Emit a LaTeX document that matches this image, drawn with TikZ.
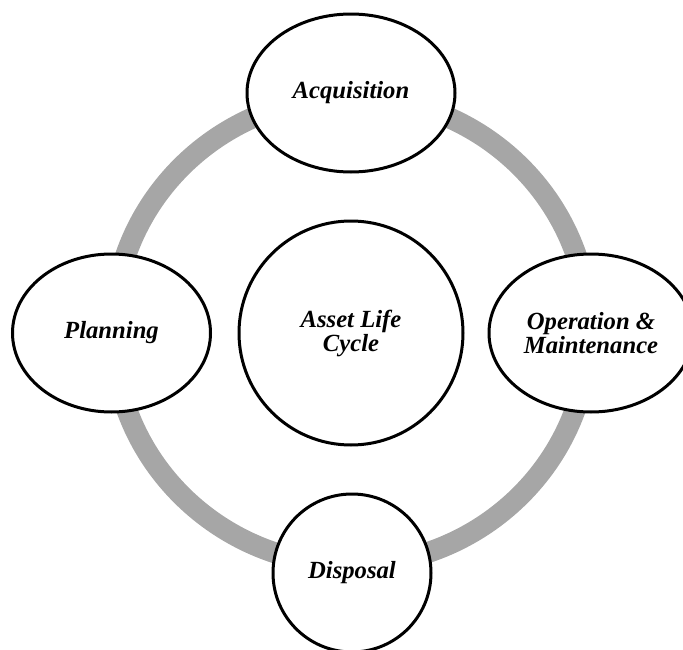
\documentclass[tikz,border=0pt]{standalone}
\usepackage{fontspec}
\setmainfont{Liberation Serif}
\usetikzlibrary{shapes.geometric}
\definecolor{ringgray}{RGB}{166,166,166}
\tikzset{phase/.style={draw, ellipse, line width=2.25pt, fill=white, align=center, inner sep=0pt,
  minimum height=118.5pt, font=\fontsize{18.5}{17.5}\selectfont\bfseries\itshape}}

\begin{document}
\begin{tikzpicture}[x=0.75pt, y=-0.75pt]
\useasboundingbox (0,0) rectangle (683,650);
% cycle ring behind the stages
\coordinate (O) at (351,331);
\draw[line width=15.75pt, ringgray] (O) ellipse [x radius=238, y radius=234];
\node[phase, minimum width=168pt, minimum height=168pt, font=\fontsize{18.5}{18}\selectfont\bfseries\itshape] (core) at (351,333) {Asset Life\\Cycle};
\node[phase, minimum width=156pt] (acq) at (351,93) {Acquisition};
\node[phase, minimum width=148.5pt] (plan) at (111.5,333) {Planning};
\node[phase, minimum width=153pt] (oper) at (591,333) {Operation \&\\Maintenance};
\node[phase, minimum width=118.5pt] (disp) at (352,573) {Disposal};
\end{tikzpicture}
\end{document}
